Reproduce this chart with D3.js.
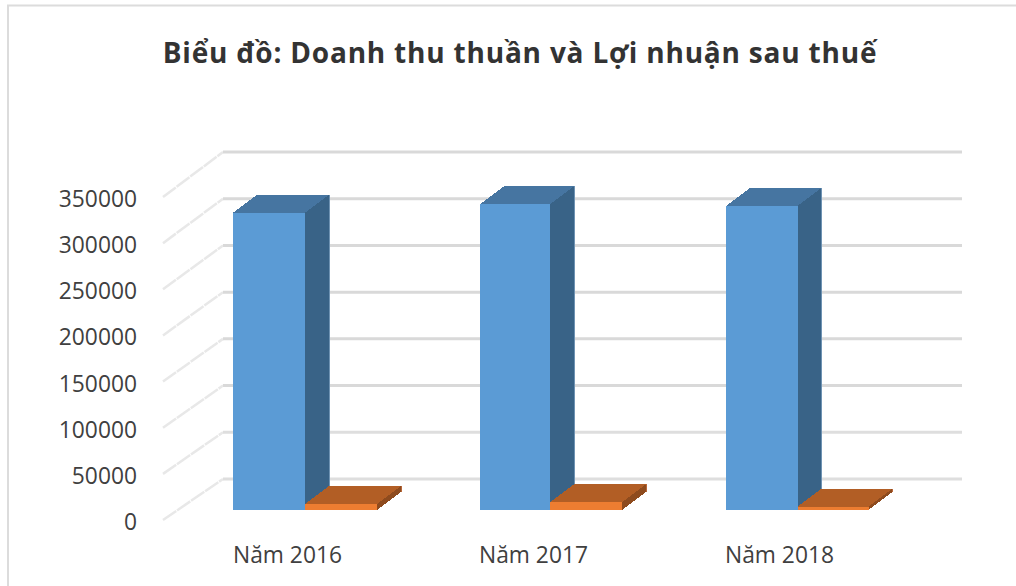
<!DOCTYPE html>
<html><head><meta charset="utf-8">
<script src="https://d3js.org/d3.v7.min.js"></script>
<style>html,body{margin:0;padding:0;background:#fff}svg{display:block}</style></head>
<body><svg id="c" width="1016" height="586"></svg>
<script>
const categories=["Năm 2016","Năm 2017","Năm 2018"];
const revenue=[318200,327200,325400];
const profit=[6400,8200,3700];
const tickValues=[0,50000,100000,150000,200000,250000,300000,350000];
const titleText="Biểu đồ: Doanh thu thuần và Lợi nhuận sau thuế";
const svg=d3.select("#c");
const font="'Open Sans','Noto Sans',sans-serif";
svg.append("path").attr("d","M8,586V5.5H1016").attr("fill","none").attr("stroke","#dcdcdc").attr("stroke-width",2);
svg.append("text").attr("x",520).attr("y",62.5).attr("text-anchor","middle").attr("font-family",font).attr("font-weight",700).attr("font-size",28).attr("letter-spacing",0.8).attr("fill","#333").text(titleText);
const y=d3.scaleLinear().domain([0,350000]).range([520,197]);
const backY=d3.scaleLinear().domain([0,350000]).range([479,152]);
const barH=d3.scaleLinear().domain([0,350000]).range([0,327]);
const g=svg.append("g");
tickValues.forEach(t=>{
 g.append("line").attr("x1",163).attr("x2",223).attr("y1",y(t)).attr("y2",backY(t)).attr("stroke","#e8e8e8").attr("stroke-width",2.5).attr("stroke-dasharray","16 1");
 g.append("line").attr("x1",223).attr("x2",962).attr("y1",backY(t)).attr("y2",backY(t)).attr("stroke",t<100000?"#dedede":"#d9d9d9").attr("stroke-width",3);
 svg.append("text").attr("x",137).attr("y",y(t)+10).attr("text-anchor","end").attr("font-family",font).attr("font-size",22.8).attr("fill","#404040").text(d3.format("d")(t));
});
const left=d3.scaleOrdinal().domain(categories).range([233,480,726]);
const mid=d3.scaleOrdinal().domain(categories).range([305,550,797.5]);
const right=d3.scaleOrdinal().domain(categories).range([377,622,868.5]);
const labelX=d3.scaleOrdinal().domain(categories).range([287.5,533.5,779.5]);
const base=510,ddx=24,ddy=-18;
function box(x0,x1,v,front,top,side,edge){
 const h=barH(v),t=base-h;
 const s=g.append("g").attr("shape-rendering","crispEdges");
 s.append("path").attr("d",d3.line()([[x1,base],[x1+ddx,base+ddy],[x1+ddx,t+ddy],[x1,t]])).attr("fill",side);
 s.append("path").attr("d",d3.line()([[x0,t],[x0+ddx,t+ddy],[x1+ddx,t+ddy],[x1,t]])).attr("fill",top);
 s.append("rect").attr("x",x0).attr("y",t).attr("width",x1-x0).attr("height",h).attr("fill",front);
 s.append("line").attr("x1",x1+ddx).attr("x2",x1+ddx).attr("y1",t+ddy).attr("y2",base+ddy).attr("stroke",edge).attr("stroke-width",1);
}
categories.forEach(c=>{
 const i=categories.indexOf(c);
 box(left(c),mid(c),revenue[i],"#5b9bd5","#4675a1","#396387","#6f93b3");
 box(mid(c),right(c),profit[i],"#ed7d31","#b25e25","#8e4b1e","#b9683a");
 svg.append("text").attr("x",labelX(c)).attr("y",563).attr("text-anchor","middle").attr("font-family",font).attr("font-size",22.8).attr("fill","#404040").text(c);
});
</script></body></html>
